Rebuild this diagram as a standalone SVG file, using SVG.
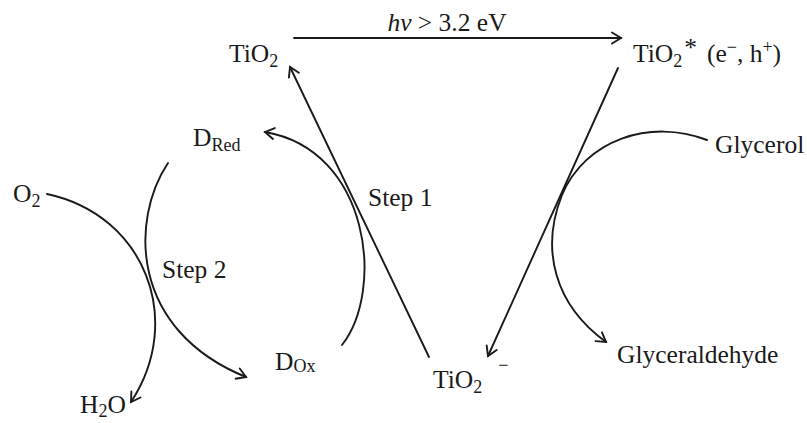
<svg xmlns="http://www.w3.org/2000/svg" width="807" height="423" viewBox="0 0 807 423">
<style>
text{font-family:"Liberation Serif","Times New Roman",serif;font-size:25.5px;fill:#1a1a1a}
.sub{font-size:18px}
.c{fill:none;stroke:#1a1a1a;stroke-width:1.9;stroke-linecap:round}
</style>
<defs>
<marker id="ah" markerUnits="userSpaceOnUse" markerWidth="14" markerHeight="14" refX="11" refY="7" orient="auto" viewBox="0 0 14 14">
<path d="M2,1.5 L11,7 L2,12.5" fill="none" stroke="#1a1a1a" stroke-width="1.9" stroke-linecap="round" stroke-linejoin="miter"/>
</marker>
</defs>
<rect width="807" height="423" fill="#fff"/>
<g id="connectors">
<path class="c" d="M294,38 L621,38" marker-end="url(#ah)"/>
<path class="c" d="M618,68 L488,356" marker-end="url(#ah)"/>
<path class="c" d="M429,357 L290,67" marker-end="url(#ah)"/>
<path class="c" d="M342,345 C385,290 370,150 265,132" marker-end="url(#ah)"/>
<path class="c" d="M168,163 C130,220 130,330 246,377" marker-end="url(#ah)"/>
<path class="c" d="M47,194 C145,215 185,320 131,402" marker-end="url(#ah)"/>
<path class="c" d="M707,140 C650,118 585,140 562,195 C540,250 555,305 606,342" marker-end="url(#ah)"/>
</g>
<g id="label-hv"><text x="447" y="31" text-anchor="middle"><tspan font-style="italic">hν</tspan> &gt; 3.2 eV</text></g>
<g id="node-TiO2"><text x="229" y="62">TiO<tspan class="sub" dy="5">2</tspan></text></g>
<g id="node-TiO2-excited"><text x="633" y="62">TiO<tspan class="sub" dy="5">2</tspan><tspan dy="-11" dx="2">*</tspan><tspan dy="6" dx="10">(e</tspan><tspan class="sub" dy="-9">−</tspan><tspan dy="9">, h</tspan><tspan class="sub" dy="-9">+</tspan><tspan dy="9">)</tspan></text></g>
<g id="node-TiO2-minus"><text x="433" y="388">TiO<tspan class="sub" dy="5">2</tspan><tspan class="sub" dx="16" dy="-22">−</tspan></text></g>
<g id="node-DRed"><text x="193" y="146">D<tspan class="sub" dy="5">Red</tspan></text></g>
<g id="node-DOx"><text x="275" y="370">D<tspan class="sub" dy="2">Ox</tspan></text></g>
<g id="node-O2"><text x="13" y="202">O<tspan class="sub" dy="5">2</tspan></text></g>
<g id="node-H2O"><text x="80" y="413">H<tspan class="sub" dy="4">2</tspan><tspan dy="-4">O</tspan></text></g>
<g id="label-step1"><text x="368" y="206">Step 1</text></g>
<g id="label-step2"><text x="162" y="278">Step 2</text></g>
<g id="node-glycerol"><text x="715" y="153">Glycerol</text></g>
<g id="node-glyceraldehyde"><text x="617" y="363">Glyceraldehyde</text></g>
</svg>
